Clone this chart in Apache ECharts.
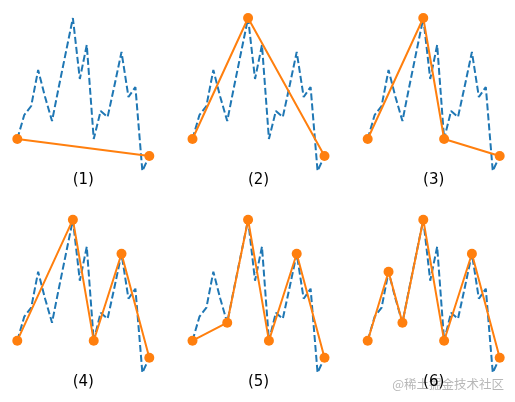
<!DOCTYPE html>
<html>
<head>
<meta charset="utf-8">
<script src="https://cdn.jsdelivr.net/npm/echarts@6/dist/echarts.min.js"></script>
<style>
html,body{margin:0;padding:0;background:#fff;}
#main{width:515px;height:402px;}
</style>
</head>
<body>
<div id="main"></div>
<script>
// original series (index 0..19)
var values = [41, 65, 74, 110, 83, 59, 94, 128, 162, 101, 135, 41, 69, 63, 95, 128, 83, 93, 9, 24];
// kept indices at each simplification step
var step1 = [0, 19];
var step2 = [0, 8, 19];
var step3 = [0, 8, 11, 19];
var step4 = [0, 8, 11, 15, 19];
var step5 = [0, 5, 8, 11, 15, 19];
var step6 = [0, 3, 5, 8, 11, 15, 19];
var panelTitles = ['(1)', '(2)', '(3)', '(4)', '(5)', '(6)'];
var watermark = '@稀土掘金技术社区';

var steps = [step1, step2, step3, step4, step5, step6];
var lefts = [17.3, 192.5, 367.7];
var tops = [10, 211.7];
var W = 132, H = 170;

var grids = [], xAxes = [], yAxes = [], series = [], graphics = [];
steps.forEach(function (st, i) {
  var col = i % 3, row = Math.floor(i / 3);
  grids.push({left: lefts[col], top: tops[row], width: W, height: H});
  xAxes.push({type: 'value', gridIndex: i, min: 0, max: values.length - 1, show: false});
  yAxes.push({type: 'value', gridIndex: i, min: 0, max: 170, show: false});
  series.push({
    type: 'line', xAxisIndex: i, yAxisIndex: i, clip: false, silent: true,
    data: values.map(function (v, k) { return [k, v]; }),
    showSymbol: false, symbol: 'none',
    lineStyle: {color: '#1f77b4', width: 2, type: [7, 3], cap: 'butt'},
    z: 2
  });
  series.push({
    type: 'line', xAxisIndex: i, yAxisIndex: i, clip: false, silent: true,
    data: st.map(function (k) { return [k, values[k]]; }),
    symbol: 'circle', symbolSize: 10,
    itemStyle: {color: '#ff7f0e'},
    lineStyle: {color: '#ff7f0e', width: 2},
    z: 3
  });
  graphics.push({
    type: 'text', x: lefts[col] + W / 2, y: tops[row] + 170,
    z: 10,
    style: {text: panelTitles[i], fill: '#000', font: '15px "DejaVu Sans"', textAlign: 'center', textVerticalAlign: 'middle'}
  });
});
graphics.push({
  type: 'text', x: 504, y: 384, z: 5,
  style: {text: watermark, fill: 'rgba(170,170,170,0.85)', font: '12.5px "Noto Sans CJK SC"', textAlign: 'right', textVerticalAlign: 'middle'}
});

var chart = echarts.init(document.getElementById('main'), null, {renderer: 'canvas'});
chart.setOption({
  animation: false,
  backgroundColor: '#fff',
  grid: grids,
  xAxis: xAxes,
  yAxis: yAxes,
  series: series,
  graphic: graphics
});
</script>
</body>
</html>
